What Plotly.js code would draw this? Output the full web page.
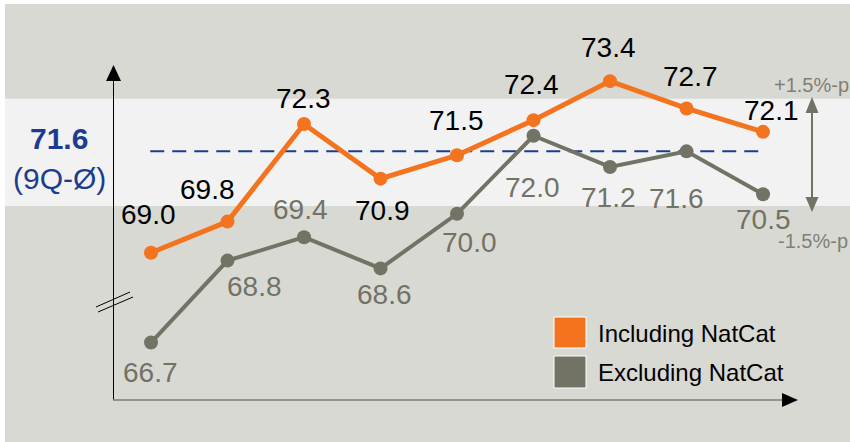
<!DOCTYPE html>
<html><head><meta charset="utf-8">
<script src="https://cdn.plot.ly/plotly-3.0.1.min.js"></script>
<style>html,body{margin:0;padding:0;background:#fff;overflow:hidden;}#chart{width:850px;height:442px;}</style>
</head><body><div id="chart"></div>
<script>
// ---- data ----
const periods = [0,1,2,3,4,5,6,7,8];
const incNatCat = [69.0, 69.8, 72.3, 70.9, 71.5, 72.4, 73.4, 72.7, 72.1];
const excNatCat = [66.7, 68.8, 69.4, 68.6, 70.0, 72.0, 71.2, 71.6, 70.5];
const avgValue = 71.6;
const avgLabel = "(9Q-Ø)";
const seriesNames = ["Including NatCat", "Excluding NatCat"];
const bandLabels = ["+1.5%-p", "-1.5%-p"];
const bandLow = 70.2, bandHigh = 72.95;

// ---- style ----
const ORANGE = "#f3731e", GREY = "#727265", BLUE = "#1c3d8f";
const FONT = "Arial, 'Liberation Sans', sans-serif";
const W = 850, H = 442;
const px = x => x / W, py = y => 1 - y / H;
const incOff = [[-3,38],[-20,32],[-1,26],[2,-32],[-1,35],[-2,36],[-2,34],[4,32],[8,21]];
const excOff = [[-1,-30],[27,-26],[-4,28],[4,-26],[12,-29],[-1,-52],[-2,-31],[-10,-47],[0,-25]];

const traces = [
  {x: periods, y: excNatCat, type: "scatter", mode: "lines+markers", name: seriesNames[1],
   line: {color: GREY, width: 4}, marker: {color: GREY, size: 14}},
  {x: periods, y: incNatCat, type: "scatter", mode: "lines+markers", name: seriesNames[0],
   line: {color: ORANGE, width: 5}, marker: {color: ORANGE, size: 14}}
];

const annotations = [];
incNatCat.forEach((v, i) => annotations.push({x: periods[i], y: v, text: v.toFixed(1), showarrow: false,
  xanchor: "center", yanchor: "middle",
  xshift: incOff[i][0], yshift: incOff[i][1], font: {family: FONT, size: 28, color: "#000"}}));
excNatCat.forEach((v, i) => annotations.push({x: periods[i], y: v, text: v.toFixed(1), showarrow: false,
  xanchor: "center", yanchor: "middle",
  xshift: excOff[i][0], yshift: excOff[i][1], font: {family: FONT, size: 28, color: GREY}}));
function pText(x, y, text, size, color, xa, bold) {
  annotations.push({xref: "paper", yref: "paper", x: px(x), y: py(y), text: bold ? "<b>" + text + "</b>" : text,
    xanchor: xa, yanchor: "middle", showarrow: false, font: {family: FONT, size: size, color: color}});
}
pText(59, 138, avgValue.toFixed(1), 30, BLUE, "center", true);
pText(59, 178, avgLabel, 30, BLUE, "center", false);
pText(772, 85, bandLabels[0], 20, "#808075", "left", false);
pText(776, 241, bandLabels[1], 20, "#808075", "left", false);
pText(596, 333, seriesNames[0], 24, "#000", "left", false);
pText(596, 372, seriesNames[1], 24, "#000", "left", false);

const shapes = [
  {type: "rect", xref: "paper", yref: "paper", x0: px(5), x1: 1, y0: 0, y1: py(4), fillcolor: "#d9d9d4", line: {width: 0}, layer: "below"},
  {type: "rect", xref: "paper", yref: "y", x0: px(5), x1: 1, y0: bandLow, y1: bandHigh, fillcolor: "#f2f2f2", line: {width: 0}, layer: "below"},
  {type: "line", xref: "x", yref: "y", x0: -0.01, x1: 8.02, y0: avgValue, y1: avgValue, line: {color: BLUE, width: 2, dash: "14px,8px"}, layer: "below"},
  // y axis
  {type: "line", xref: "paper", yref: "paper", x0: px(113.5), x1: px(113.5), y0: py(400), y1: py(78), line: {color: "#000", width: 1}},
  {type: "path", xref: "paper", yref: "paper", path: `M ${px(106)} ${py(81)} L ${px(113.5)} ${py(65)} L ${px(121)} ${py(81)} Z`, fillcolor: "#000", line: {width: 0}},
  // x axis
  {type: "line", xref: "paper", yref: "paper", x0: px(113), x1: px(785), y0: py(400), y1: py(400), line: {color: "#7a7a7a", width: 1.5}},
  {type: "path", xref: "paper", yref: "paper", path: `M ${px(782)} ${py(393)} L ${px(798)} ${py(400)} L ${px(782)} ${py(407)} Z`, fillcolor: "#000", line: {width: 0}},
  // break marks
  {type: "line", xref: "paper", yref: "paper", x0: px(96), x1: px(130), y0: py(307), y1: py(292), line: {color: "#000", width: 1}},
  {type: "line", xref: "paper", yref: "paper", x0: px(98), x1: px(133), y0: py(312), y1: py(297), line: {color: "#000", width: 1}},
  // double arrow
  {type: "line", xref: "paper", yref: "paper", x0: px(812), x1: px(812), y0: py(108), y1: py(202), line: {color: GREY, width: 2}},
  {type: "path", xref: "paper", yref: "paper", path: `M ${px(805.5)} ${py(113)} L ${px(812)} ${py(97)} L ${px(818.5)} ${py(113)} Z`, fillcolor: GREY, line: {width: 0}},
  {type: "path", xref: "paper", yref: "paper", path: `M ${px(805.5)} ${py(197)} L ${px(812)} ${py(212)} L ${px(818.5)} ${py(197)} Z`, fillcolor: GREY, line: {width: 0}},
  // legend swatches
  {type: "rect", xref: "paper", yref: "paper", x0: px(554), x1: px(586), y0: py(317), y1: py(348), fillcolor: ORANGE, line: {color: "#fff", width: 1}},
  {type: "rect", xref: "paper", yref: "paper", x0: px(554), x1: px(586), y0: py(356), y1: py(388), fillcolor: GREY, line: {color: "#fff", width: 1}}
];

const layout = {
  width: W, height: H, margin: {l: 0, r: 0, t: 0, b: 0},
  paper_bgcolor: "#ffffff", plot_bgcolor: "rgba(0,0,0,0)",
  showlegend: false,
  xaxis: {range: [-1.974, 9.137], visible: false, fixedrange: true},
  yaxis: {range: [64.15, 75.48], visible: false, fixedrange: true},
  shapes: shapes, annotations: annotations
};
Plotly.newPlot("chart", traces, layout, {displayModeBar: false, staticPlot: true});
</script></body></html>
